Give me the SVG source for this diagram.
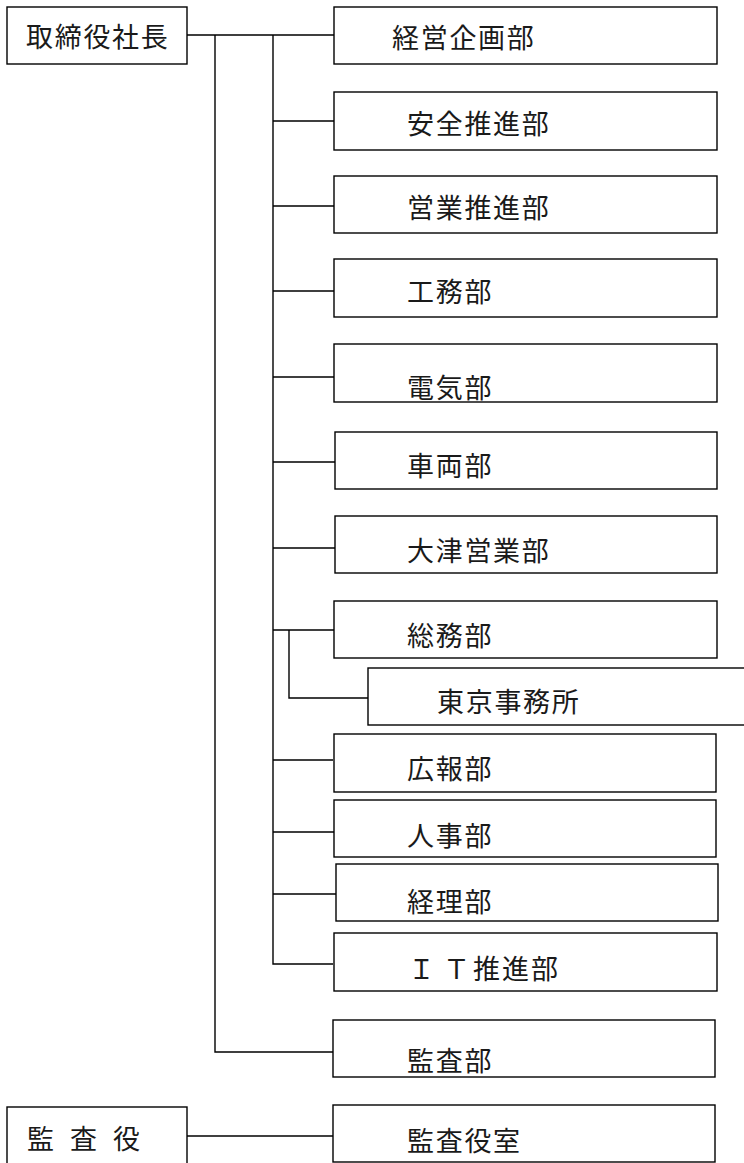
<svg xmlns="http://www.w3.org/2000/svg" width="744" height="1163" viewBox="0 0 744 1163">
<style>
.b{fill:#fff;stroke:#000;stroke-width:1.4}
.t{font-family:"Noto Sans CJK JP","Noto Sans CJK SC",sans-serif;font-size:27px;letter-spacing:1.7px;fill:#1a1a1a}
.c{fill:none;stroke:#000;stroke-width:1.4}
</style>
<rect width="744" height="1163" fill="#fff"/>
<g id="connectors">
<path class="c" d="M187 35H338M215 35V1052H333M273 35V964H333"/>
<path class="c" d="M273 121H334M273 206H334M273 291H337M273 377H337M273 462H335M273 548H337M273 630H334M273 760H333M273 832H334M273 894H336"/>
<path class="c" d="M289 630V698H368"/>
<path class="c" d="M187 1136H333"/>
</g>
<g id="n-president"><rect class="b" x="7" y="7" width="180" height="57"/><text class="t" x="26" y="47">取締役社長</text></g>
<g id="n-keiei"><rect class="b" x="334" y="7" width="383" height="57"/><text class="t" x="392" y="48">経営企画部</text></g>
<g id="n-anzen"><rect class="b" x="334" y="92" width="383" height="58"/><text class="t" x="407" y="134">安全推進部</text></g>
<g id="n-eigyo"><rect class="b" x="334" y="176" width="383" height="57"/><text class="t" x="407" y="218">営業推進部</text></g>
<g id="n-koumu"><rect class="b" x="334" y="259" width="383" height="58"/><text class="t" x="407" y="302">工務部</text></g>
<g id="n-denki"><rect class="b" x="334" y="344" width="383" height="58"/><text class="t" x="407" y="398">電気部</text></g>
<g id="n-sharyo"><rect class="b" x="335" y="432" width="382" height="57"/><text class="t" x="407" y="476">車両部</text></g>
<g id="n-otsu"><rect class="b" x="335" y="516" width="382" height="57"/><text class="t" x="407" y="561">大津営業部</text></g>
<g id="n-soumu"><rect class="b" x="334" y="601" width="383" height="57"/><text class="t" x="407" y="646">総務部</text></g>
<g id="n-tokyo"><rect class="b" x="368" y="668" width="400" height="57"/><text class="t" x="437" y="712">東京事務所</text></g>
<g id="n-kouhou"><rect class="b" x="334" y="734" width="382" height="58"/><text class="t" x="407" y="779">広報部</text></g>
<g id="n-jinji"><rect class="b" x="334" y="800" width="382" height="57"/><text class="t" x="407" y="846">人事部</text></g>
<g id="n-keiri"><rect class="b" x="336" y="864" width="382" height="57"/><text class="t" x="407" y="912">経理部</text></g>
<g id="n-it"><rect class="b" x="334" y="933" width="383" height="58"/><text class="t" x="408 443 473 502 531" y="979">ＩＴ推進部</text></g>
<g id="n-kansabu"><rect class="b" x="333" y="1020" width="382" height="57"/><text class="t" x="407" y="1071">監査部</text></g>
<g id="n-kansayaku"><rect class="b" x="7" y="1107" width="180" height="70"/><text class="t" x="27 56 70 99 113" y="1149">監 査 役</text></g>
<g id="n-kansayakushitsu"><rect class="b" x="333" y="1105" width="382" height="57"/><text class="t" x="407" y="1151">監査役室</text></g>
</svg>
